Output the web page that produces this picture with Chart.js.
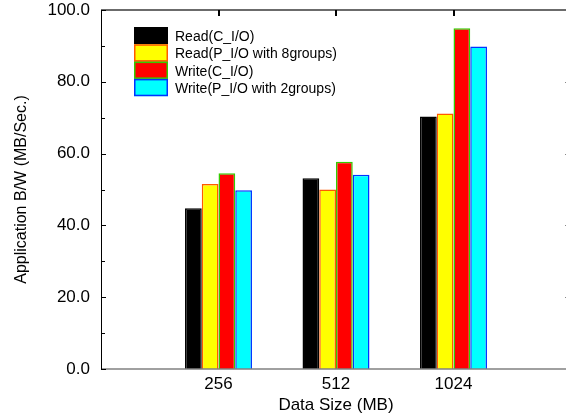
<!DOCTYPE html>
<html>
<head>
<meta charset="utf-8">
<script src="https://cdn.jsdelivr.net/npm/chart.js@4/dist/chart.umd.min.js"></script>
<style>
  html, body { margin: 0; padding: 0; overflow: hidden; background: #fff; }
  #wrap { width: 580px; height: 419px; }
</style>
</head>
<body>
<div id="wrap"><canvas id="c" width="580" height="419"></canvas></div>
<script>
// ---- data ----
const categories = ['256', '512', '1024'];
const readC   = [44.8, 53.1, 70.3];   // Read(C_I/O)
const readP8  = [51.5, 50.0, 71.2];   // Read(P_I/O with 8groups)
const writeC  = [54.5, 57.7, 94.9];   // Write(C_I/O)
const writeP2 = [49.8, 54.1, 89.8];   // Write(P_I/O with 2groups)
const seriesNames = ['Read(C_I/O)', 'Read(P_I/O with 8groups)', 'Write(C_I/O)', 'Write(P_I/O with 2groups)'];
const yTicks = [0, 20, 40, 60, 80, 100];
const yMinorTicks = [10, 30, 50, 70, 90];

// pad categories with an empty slot on each side (axis spans one extra category each side)
const labels = [''].concat(categories, ['']);
const pad = arr => [null].concat(arr, [null]);

const FONT = 'Liberation Sans, Arial, sans-serif';

const framePlugin = {
  id: 'frame',
  afterDatasetsDraw(chart) {
    const {ctx, chartArea: a, scales: {x, y}} = chart;
    ctx.save();
    // top axis
    ctx.strokeStyle = '#3a3a3a'; ctx.lineWidth = 1.5;
    ctx.beginPath(); ctx.moveTo(a.left, a.top); ctx.lineTo(a.right, a.top); ctx.stroke();
    // bottom axis
    ctx.strokeStyle = '#808080'; ctx.lineWidth = 1.5;
    ctx.beginPath(); ctx.moveTo(a.left, a.bottom); ctx.lineTo(a.right, a.bottom); ctx.stroke();
    // left axis
    ctx.strokeStyle = '#000'; ctx.lineWidth = 1;
    ctx.beginPath(); ctx.moveTo(a.left + 0.5, a.top); ctx.lineTo(a.left + 0.5, a.bottom); ctx.stroke();
    // left y ticks (inward)
    yTicks.forEach(v => {
      const py = Math.round(y.getPixelForValue(v)) + 0.5;
      ctx.beginPath(); ctx.moveTo(a.left, py); ctx.lineTo(a.left + 5, py); ctx.stroke();
    });
    yMinorTicks.forEach(v => {
      const py = Math.round(y.getPixelForValue(v)) + 0.5;
      ctx.beginPath(); ctx.moveTo(a.left, py); ctx.lineTo(a.left + 4, py); ctx.stroke();
    });
    // right y ticks (inward, mostly outside the window)
    ctx.strokeStyle = '#888';
    yTicks.filter(v => v > 0 && v < 100).forEach(v => {
      const py = Math.round(y.getPixelForValue(v)) + 0.5;
      ctx.beginPath(); ctx.moveTo(a.right, py); ctx.lineTo(a.right - 6, py); ctx.stroke();
    });
    // top ticks at categories (inward)
    ctx.strokeStyle = '#000'; ctx.lineWidth = 2;
    categories.forEach(c => {
      const px = Math.round(x.getPixelForValue(labels.indexOf(c)));
      ctx.beginPath(); ctx.moveTo(px, a.top); ctx.lineTo(px, a.top + 6); ctx.stroke();
    });
    ctx.restore();
  },
  afterDraw(chart) {
    // legend inside plot area
    const {ctx} = chart;
    const ds = chart.data.datasets;
    const bx = 134, by = 27, bw = 34, bh = 17.3;
    ctx.save();
    ctx.font = '14px ' + FONT;
    ctx.textBaseline = 'middle';
    ctx.textAlign = 'left';
    ds.forEach((d, i) => {
      const yy = by + i * bh;
      ctx.fillStyle = d.backgroundColor;
      ctx.fillRect(bx, yy, bw, bh);
      ctx.strokeStyle = d.borderColor; ctx.lineWidth = 1.5;
      ctx.strokeRect(bx + 0.75, yy + 0.75, bw - 1.5, bh - 1.5);
      ctx.fillStyle = '#000';
      ctx.fillText(d.label, 175, yy + bh / 2 + 1.5);
    });
    ctx.restore();
  }
};

const mk = (i, data, bg, border) => ({
  label: seriesNames[i], data: pad(data),
  backgroundColor: bg, borderColor: border, borderWidth: 1.5, borderSkipped: 'start'
});

new Chart(document.getElementById('c'), {
  type: 'bar',
  data: {
    labels: labels,
    datasets: [
      mk(0, readC,   '#000000', '#000000'),
      mk(1, readP8,  '#ffff00', '#ff5a00'),
      mk(2, writeC,  '#ff0000', '#33cc00'),
      mk(3, writeP2, '#00ffff', '#0033ff')
    ]
  },
  options: {
    responsive: false,
    animation: false,
    devicePixelRatio: 1,
    layout: { padding: { top: 10, right: 9, left: 0, bottom: 0 } },
    plugins: { legend: { display: false }, tooltip: { enabled: false } },
    datasets: { bar: { categoryPercentage: 0.57, barPercentage: 1.0 } },
    scales: {
      x: {
        offset: false,
        grid: { display: false, drawTicks: false },
        border: { display: false },
        ticks: { color: '#000', font: { family: FONT, size: 17 }, padding: 5, maxRotation: 0, autoSkip: false },
        title: { display: true, text: 'Data Size (MB)', color: '#000', font: { family: FONT, size: 17 }, padding: { top: 0, bottom: 3 } },
        afterFit(s) { s.height = 50; s.paddingLeft = 0; s.paddingRight = 0; }
      },
      y: {
        min: 0, max: 100,
        grid: { display: false, drawTicks: false },
        border: { display: false },
        afterBuildTicks(s) { s.ticks = yTicks.map(v => ({ value: v })); },
        ticks: { color: '#000', font: { family: FONT, size: 17 }, padding: 11, callback: v => Number(v).toFixed(1) },
        title: { display: true, text: 'Application B/W (MB/Sec.)', color: '#000', font: { family: FONT, size: 16 }, padding: { top: 12, bottom: 0 } },
        afterFit(s) { s.width = 101; s.paddingTop = 0; s.paddingBottom = 0; }
      }
    }
  },
  plugins: [framePlugin]
});
</script>
</body>
</html>
